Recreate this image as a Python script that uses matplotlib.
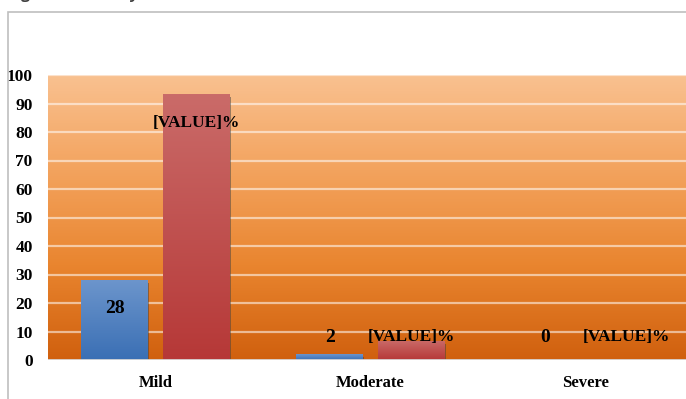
import numpy as np
import matplotlib.pyplot as plt
from matplotlib.colors import LinearSegmentedColormap
from matplotlib.patches import Rectangle
import matplotlib.patheffects as pe

categories = ['Mild', 'Moderate', 'Severe']
counts = [28, 2, 0]
percents = [93.3, 6.7, 0]
yticks = [0, 10, 20, 30, 40, 50, 60, 70, 80, 90, 100]

serif = 'Liberation Serif'

fig = plt.figure(figsize=(6.86, 3.99), dpi=100)

# heading line sits above the page edge, only its descenders show
fig.text(0.012, 1.0 + 1/399, 'Figure 1: Severity', fontsize=11, fontweight='bold',
         color='#404040', family='Open Sans', va='baseline', ha='left')

# outer border of the chart box
fig.patches.append(Rectangle((8/686, -0.05), 1.0, 1.05 - 12/399, transform=fig.transFigure,
                             fill=False, edgecolor='#bfbfbf', lw=1.2))

ax = fig.add_axes([48/686, 1 - 360/399, 645/686, 285/399])

# orange background gradient
bg = LinearSegmentedColormap.from_list('bg', ['#d0600e', '#e9852f', '#f3a35e', '#f9c190'])
grad = np.linspace(0, 1, 256).reshape(-1, 1)
ax.imshow(grad, cmap=bg, origin='lower', aspect='auto', extent=(0, 1, 0, 1),
          transform=ax.transAxes, zorder=0)

for t in yticks[1:]:
    ax.axhline(t, color='white', alpha=0.55, lw=1.6, zorder=1)
ax.axhline(0, color='#d9d9d9', lw=2, zorder=4)

x = np.arange(len(categories))
w = 0.31
off = 0.19
shadow = [pe.SimplePatchShadow(offset=(1, -2), shadow_rgbFace='#404040', alpha=0.5), pe.Normal()]

blue = LinearSegmentedColormap.from_list('b', ['#3a6fb4', '#6c95cc'])
red = LinearSegmentedColormap.from_list('r', ['#b63837', '#ca6b69'])


def shade(bars, cmap):
    for b in bars:
        b.set_path_effects(shadow)
        if b.get_height() <= 0:
            b.set_visible(False)
            continue
        x0, y0 = b.get_x(), b.get_y()
        im = ax.imshow(grad, cmap=cmap, origin='lower', aspect='auto',
                       extent=(x0, x0 + b.get_width(), y0, y0 + b.get_height()), zorder=3)
        im.set_clip_path(b)


b1 = ax.bar(x - off, counts, w, color='#4a7fc0', zorder=2)
b2 = ax.bar(x + off, percents, w, color='#c04d4b', zorder=2)
shade(b1, blue)
shade(b2, red)
ax.set_xlim(-0.5, 2.5)
ax.set_ylim(0, 100)

for i in range(len(categories)):
    ax.text(x[i] - off, max(counts[i] - 10, 8), str(counts[i]), ha='center', va='center',
            family=serif, fontweight='bold', fontsize=14, zorder=5)
    ax.text(x[i] + off, max(percents[i] - 10, 8), '[VALUE]%', ha='center', va='center',
            family=serif, fontweight='bold', fontsize=12.5, zorder=5)

ax.set_yticks(yticks)
ax.set_yticklabels([str(t) for t in yticks], family=serif, fontweight='bold', fontsize=12.5)
ax.set_xticks(x)
ax.set_xticklabels(categories, family=serif, fontweight='bold', fontsize=12)
ax.tick_params(axis='y', length=0, pad=11)
ax.tick_params(axis='x', length=0, pad=11)
for s in ax.spines.values():
    s.set_visible(False)

fig.savefig('out.png', dpi=100)
